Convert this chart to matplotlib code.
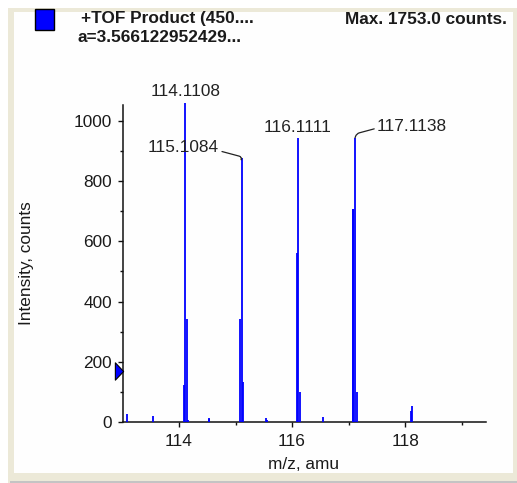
import matplotlib
matplotlib.use("Agg")
import matplotlib.pyplot as plt
import matplotlib.transforms as mtransforms
from matplotlib.patches import Rectangle
from matplotlib.path import Path
from matplotlib.ticker import MultipleLocator

# ---- spectrum data (m/z, intensity in counts) ----
stick_mz = [113.085, 113.545,
            114.082, 114.1108, 114.141, 114.165,
            114.525, 114.535,
            115.073, 115.1084, 115.138,
            115.535, 115.548,
            116.093, 116.1111, 116.146,
            116.545,
            117.079, 117.086, 117.1138, 117.156,
            118.100, 118.128]
stick_int = [25, 20,
             123, 1060, 342, 6,
             10, 14,
             342, 876, 134,
             12, 6,
             561, 944, 100,
             15,
             708, 708, 944, 100,
             35, 54]

peak_labels = ["114.1108", "115.1084", "116.1111", "117.1138"]
peak_mz = [114.1108, 115.1084, 116.1111, 117.1138]
peak_int = [1060, 876, 944, 944]

threshold = 170

header_left = ["+TOF Product (450....", "a=3.566122952429..."]
header_right = "Max. 1753.0 counts."
x_label = "m/z, amu"
y_label = "Intensity, counts"
x_major = [114, 116, 118]
y_major = [0, 200, 400, 600, 800, 1000]

W, H = 517, 483
DPI = 100
BLUE = "#0000FF"
BEIGE = "#ECE9D8"
TXT = "#1a1a1a"

fig = plt.figure(figsize=(W / DPI, H / DPI), dpi=DPI)
fig.patch.set_facecolor("white")


def fx(px):
    return px / W


def fy(py):
    return 1 - py / H


# window frame
fig.add_artist(Rectangle((fx(8), fy(483)), fx(509), 475 / H, transform=fig.transFigure,
                         facecolor=BEIGE, edgecolor="none", zorder=0))
fig.add_artist(Rectangle((fx(10), fy(483)), fx(507), 2.5 / H, transform=fig.transFigure,
                         facecolor="#C4C4C4", edgecolor="none", zorder=0.5))
fig.add_artist(Rectangle((fx(14), fy(473)), fx(499), 461 / H, transform=fig.transFigure,
                         facecolor="#FEFEFE", edgecolor="none", zorder=1))

# header: legend swatch and texts
fig.add_artist(Rectangle((fx(35), fy(30)), fx(19), 21 / H, transform=fig.transFigure,
                         facecolor=BLUE, edgecolor="black", linewidth=1.0, zorder=3))
fig.text(fx(81), fy(19), header_left[0], family="Liberation Sans", weight="bold",
         fontsize=12.4, color=TXT, ha="left", va="center", zorder=3)
fig.text(fx(77), fy(37), header_left[1], family="Liberation Sans", weight="bold",
         fontsize=12.4, color=TXT, ha="left", va="center", zorder=3)
fig.text(fx(507), fy(19), header_right, family="Liberation Sans", weight="bold",
         fontsize=12.4, color=TXT, ha="right", va="center", zorder=3)

# main axes
ax = fig.add_axes([fx(123), fy(422), fx(486 - 123), (422 - 105) / H])
ax.set_facecolor("none")
ax.set_zorder(4)

ax.vlines(stick_mz, 0, stick_int, colors=BLUE, linewidth=1.3, clip_on=False, zorder=3)

ax.set_xlim(113.01, 119.43)
ax.set_ylim(0, 1053)

for s in ["top", "right"]:
    ax.spines[s].set_visible(False)
for s in ["left", "bottom"]:
    ax.spines[s].set_linewidth(1.1)
    ax.spines[s].set_color("#111111")

ax.set_xticks(x_major)
ax.set_yticks(y_major)
ax.xaxis.set_minor_locator(MultipleLocator(1))
ax.yaxis.set_minor_locator(MultipleLocator(100))
ax.tick_params(which="major", direction="out", length=3.6, width=1.0, color="#111111",
               labelsize=12.4, labelcolor=TXT)
ax.tick_params(which="minor", direction="out", length=2.2, width=1.0, color="#111111")
ax.tick_params(axis="x", which="major", pad=5)
ax.tick_params(axis="y", which="major", pad=4.5)
for lab in ax.get_xticklabels() + ax.get_yticklabels():
    lab.set_family("Liberation Sans")

ax.set_xlabel(x_label, family="Liberation Sans", fontsize=12.4, color=TXT)
ax.set_ylabel(y_label, family="Liberation Sans", fontsize=12.4, color=TXT)
ax.xaxis.set_label_coords((304 - 123) / (486 - 123), -(457 - 422) / (422 - 105))
ax.yaxis.set_label_coords(-(123 - 34) / (486 - 123), (422 - 263) / (422 - 105))

# threshold marker on the intensity axis
tri = Path([(-1, 2.1), (1, 0), (-1, -2.1), (-1, 2.1)],
           [Path.MOVETO, Path.LINETO, Path.LINETO, Path.CLOSEPOLY])
trans = mtransforms.blended_transform_factory(ax.transAxes, ax.transData)
trans = trans + mtransforms.ScaledTranslation(-4 / DPI, 0, fig.dpi_scale_trans)
ax.plot([0], [threshold], marker=tri, markersize=12.5, markerfacecolor=BLUE,
        markeredgecolor="black", markeredgewidth=0.8, transform=trans, clip_on=False,
        zorder=6)

# peak annotations (offsets in pixels)
label_kw = dict(family="Liberation Sans", fontsize=12.4, color="#222222",
                textcoords="offset pixels", va="center", annotation_clip=False)
conn = dict(arrowstyle="-", color="#222222", linewidth=0.9, shrinkA=0, shrinkB=0)

ax.annotate(peak_labels[0], xy=(peak_mz[0], peak_int[0]), xytext=(0, 11), ha="center",
            **label_kw)
ax.annotate(peak_labels[1], xy=(peak_mz[1], peak_int[1]), xytext=(-58, 10.5), ha="center",
            arrowprops=dict(connectionstyle="angle,angleA=-15,angleB=75,rad=3",
                            relpos=(1.0, 0.3), **conn),
            **label_kw)
ax.annotate(peak_labels[2], xy=(peak_mz[2], peak_int[2]), xytext=(-1, 10.7), ha="center",
            **label_kw)
ax.annotate(peak_labels[3], xy=(peak_mz[3], peak_int[3]), xytext=(57, 11.2), ha="center",
            arrowprops=dict(connectionstyle="angle,angleA=195,angleB=70,rad=3",
                            relpos=(0.0, 0.4), **conn),
            **label_kw)

fig.savefig("out.png", dpi=DPI)
